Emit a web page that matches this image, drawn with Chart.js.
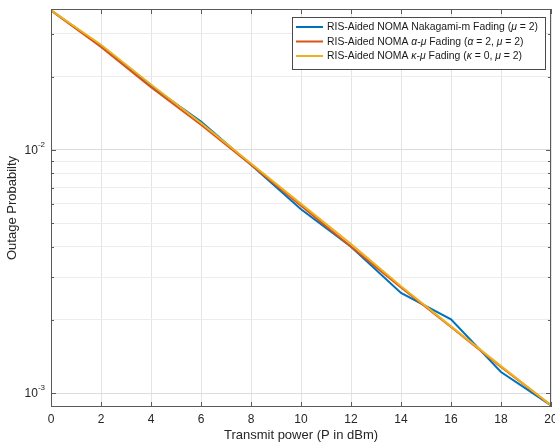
<!DOCTYPE html>
<html>
<head>
<meta charset="utf-8">
<script src="https://cdn.jsdelivr.net/npm/chart.js@4"></script>
<style>
  html, body { margin: 0; padding: 0; background: #fff; }
  canvas { display: block; }
</style>
</head>
<body>
<canvas id="OutageChart" width="555" height="443"></canvas>
<script>
// transmit power (dBm) and outage probability
const powerDbm = [0, 2, 4, 6, 8, 10, 12, 14, 16, 18, 20];
const nakagamiM = [0.0375, 0.0268, 0.0183, 0.0131, 0.0087, 0.0057, 0.0040, 0.00258, 0.00201, 0.00122, 0.00089];
const alphaMu = [0.0375, 0.0265, 0.0181, 0.0127, 0.0087, 0.0059, 0.0040, 0.00272, 0.00187, 0.00128, 0.00089];
const kappaMu = [0.0375, 0.0271, 0.0186, 0.0129, 0.0088, 0.0060, 0.0041, 0.00275, 0.00188, 0.00129, 0.00089];

const xTicks = [0, 2, 4, 6, 8, 10, 12, 14, 16, 18, 20];
const yMajorTicks = [0.001, 0.01];
const yMajorLabels = [['10', '-3'], ['10', '-2']];

// legend entries: plain text pieces and italic (greek) pieces
const legendEntries = [
  { color: '#0072BD', parts: [['RIS-Aided NOMA Nakagami-m Fading (', 0], ['\u03BC', 1], [' = 2)', 0]] },
  { color: '#D95319', parts: [['RIS-Aided NOMA ', 0], ['\u03B1', 1], ['-', 0], ['\u03BC', 1], [' Fading (', 0], ['\u03B1', 1], [' = 2, ', 0], ['\u03BC', 1], [' = 2)', 0]] },
  { color: '#EDB120', parts: [['RIS-Aided NOMA ', 0], ['\u03BA', 1], ['-', 0], ['\u03BC', 1], [' Fading (', 0], ['\u03BA', 1], [' = 0, ', 0], ['\u03BC', 1], [' = 2)', 0]] }
];

const FONT = '"Liberation Sans", Arial, Helvetica, sans-serif';

// grid positions on the log axis: 1..9 x 10^n inside the range
const yGrid = [];
[0.001, 0.01].forEach(d => {
  for (let k = 1; k <= 9; k++) {
    const v = k * d;
    if (v <= 0.038) yGrid.push(v);
  }
});

function toPoints(values) {
  return values.map((v, i) => ({ x: powerDbm[i], y: v }));
}

const axisBox = {
  id: 'axisBox',
  afterDatasetsDraw(chart) {
    const ctx = chart.ctx;
    const a = chart.chartArea;
    const xs = chart.scales.x;
    const ys = chart.scales.y;
    ctx.save();
    ctx.strokeStyle = '#5a5a5a';
    ctx.lineWidth = 1;
    ctx.strokeRect(a.left + 0.5, a.top + 0.5, a.right - a.left - 1, a.bottom - a.top - 1);

    ctx.beginPath();
    xTicks.forEach(v => {
      const px = Math.round(xs.getPixelForValue(v)) + 0.5;
      ctx.moveTo(px, a.bottom);
      ctx.lineTo(px, a.bottom - 5);
      ctx.moveTo(px, a.top);
      ctx.lineTo(px, a.top + 5);
    });
    yGrid.forEach(v => {
      const py = Math.round(ys.getPixelForValue(v)) + 0.5;
      const len = yMajorTicks.includes(v) ? 5 : 3;
      ctx.moveTo(a.left, py);
      ctx.lineTo(a.left + len, py);
      ctx.moveTo(a.right, py);
      ctx.lineTo(a.right - len, py);
    });
    ctx.stroke();

    // y tick labels as 10 with superscript exponent
    ctx.fillStyle = '#262626';
    ctx.textBaseline = 'middle';
    yMajorTicks.forEach((v, i) => {
      const py = ys.getPixelForValue(v);
      ctx.font = '8px ' + FONT;
      const ew = ctx.measureText(yMajorLabels[i][1]).width;
      ctx.textAlign = 'right';
      ctx.fillText(yMajorLabels[i][1], 45, py - 5);
      ctx.font = '12px ' + FONT;
      ctx.fillText(yMajorLabels[i][0], 45 - ew, py + 1);
    });

    // legend
    const bx = 292, by = 17, bw = 253, bh = 52;
    ctx.fillStyle = '#ffffff';
    ctx.fillRect(bx, by, bw, bh);
    ctx.strokeStyle = '#4a4a4a';
    ctx.strokeRect(bx + 0.5, by + 0.5, bw, bh);
    legendEntries.forEach((e, i) => {
      const ly = by + 10 + i * 14.5;
      ctx.strokeStyle = e.color;
      ctx.lineWidth = 2;
      ctx.beginPath();
      ctx.moveTo(bx + 4, ly);
      ctx.lineTo(323, ly);
      ctx.stroke();
      let tx = 327;
      ctx.textAlign = 'left';
      ctx.fillStyle = '#1a1a1a';
      e.parts.forEach(p => {
        ctx.font = (p[1] ? 'italic ' : '') + '10.4px ' + FONT;
        ctx.fillText(p[0], tx, ly + 0.5);
        tx += ctx.measureText(p[0]).width;
      });
    });
    ctx.restore();
  }
};

const data = {
  datasets: [
    { label: 'RIS-Aided NOMA Nakagami-m Fading', data: toPoints(nakagamiM), borderColor: '#0072BD', order: 3 },
    { label: 'RIS-Aided NOMA alpha-mu Fading', data: toPoints(alphaMu), borderColor: '#D95319', order: 2 },
    { label: 'RIS-Aided NOMA kappa-mu Fading', data: toPoints(kappaMu), borderColor: '#EDB120', order: 1 }
  ]
};

const config = {
  type: 'line',
  data: data,
  plugins: [axisBox],
  options: {
    responsive: false,
    animation: false,
    layout: { padding: { top: 9, right: 4, left: 0, bottom: 0 } },
    elements: {
      point: { radius: 0 },
      line: { borderWidth: 2, tension: 0, fill: false }
    },
    plugins: {
      legend: { display: false },
      tooltip: { enabled: false }
    },
    scales: {
      x: {
        type: 'linear',
        min: 0,
        max: 20,
        afterBuildTicks: scale => { scale.ticks = xTicks.map(v => ({ value: v })); },
        afterFit: scale => {
          scale.height = 36;
          scale.paddingLeft = 0;
          scale.paddingRight = 0;
        },
        ticks: {
          autoSkip: false,
          maxRotation: 0,
          padding: 5,
          color: '#262626',
          font: { family: FONT, size: 12 }
        },
        grid: { color: '#e4e4e4', drawTicks: false },
        border: { display: false },
        title: {
          display: true,
          text: 'Transmit power (P in dBm)',
          color: '#262626',
          font: { family: FONT, size: 13 },
          padding: { top: 0, bottom: 0 }
        }
      },
      y: {
        type: 'logarithmic',
        min: 0.000876,
        max: 0.038,
        afterBuildTicks: scale => { scale.ticks = yGrid.map(v => ({ value: v })); },
        afterFit: scale => {
          scale.width = 51;
          scale.paddingTop = 0;
          scale.paddingBottom = 0;
        },
        ticks: {
          autoSkip: false,
          callback: () => '',
          font: { family: FONT, size: 12 }
        },
        grid: {
          color: c => yMajorTicks.includes(c.tick && c.tick.value) ? '#dcdcdc' : '#ececec',
          drawTicks: false
        },
        border: { display: false },
        title: {
          display: true,
          text: 'Outage Probabilty',
          color: '#262626',
          font: { family: FONT, size: 13 },
          padding: { top: 5, bottom: 0 }
        }
      }
    }
  }
};

const chartCtx = document.getElementById('OutageChart').getContext('2d');
new Chart(chartCtx, config);
</script>
</body>
</html>
